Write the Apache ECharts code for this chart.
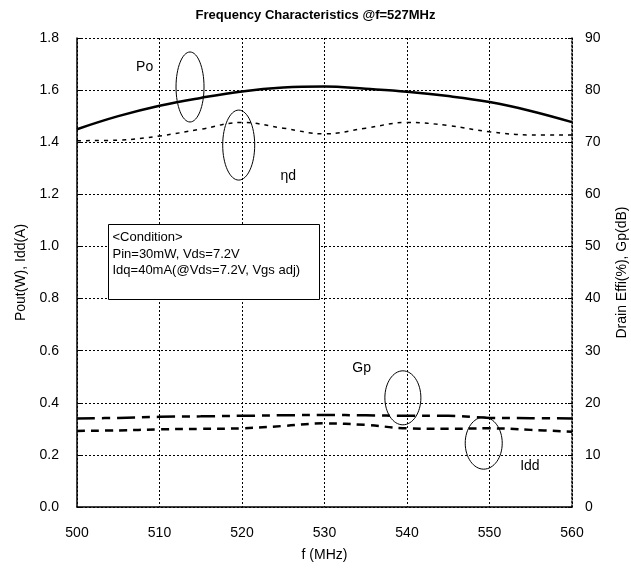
<!DOCTYPE html>
<html>
<head>
<meta charset="utf-8">
<script src="https://cdn.jsdelivr.net/npm/echarts@6/dist/echarts.min.js"></script>
<style>
  html, body { margin: 0; padding: 0; background: #fff; }
  #chart { width: 631px; height: 568px; }
</style>
</head>
<body>
<div id="chart"></div>
<script>
// frequency points (MHz)
const freq = [500, 505, 510, 515, 520, 525, 530, 535, 540, 545, 550, 555, 560];
// left axis: Pout (W), Idd (A)
const pout = [1.45, 1.50, 1.54, 1.57, 1.595, 1.61, 1.614, 1.605, 1.594, 1.577, 1.554, 1.52, 1.477];
const idd = [0.292, 0.294, 0.298, 0.300, 0.302, 0.311, 0.321, 0.315, 0.302, 0.300, 0.302, 0.296, 0.289];
// right axis: drain efficiency (%), Gp (dB)
const eff = [70.3, 70.4, 71.2, 72.5, 73.8, 72.7, 71.6, 72.7, 73.8, 73.2, 72.0, 71.4, 71.4];
const gp = [17.0, 17.1, 17.3, 17.4, 17.5, 17.6, 17.65, 17.6, 17.5, 17.5, 17.1, 17.05, 17.0];

const xTicks = [500, 510, 520, 530, 540, 550, 560];
const leftTicks = [0, 0.2, 0.4, 0.6, 0.8, 1.0, 1.2, 1.4, 1.6, 1.8];
const rightTicks = [0, 10, 20, 30, 40, 50, 60, 70, 80, 90];

const pairs = (xs, ys) => xs.map((x, i) => [x, ys[i]]);

const FONT = 'Liberation Sans, Arial, sans-serif';
const dotted = { color: '#000', width: 1, type: [2, 2] };

const myChart = echarts.init(document.getElementById('chart'));

const option = {
  animation: false,
  textStyle: { fontFamily: FONT, color: '#000' },
  title: {
    text: 'Frequency Characteristics @f=527MHz',
    left: 'center',
    top: 4,
    textStyle: { fontFamily: FONT, fontSize: 13, fontWeight: 'bold', color: '#000' },
  },
  grid: { left: 77, right: 59, top: 38, bottom: 61, outerBoundsMode: 'none', containLabel: false },
  xAxis: {
    type: 'value',
    min: xTicks[0],
    max: xTicks[xTicks.length - 1],
    interval: 10,
    name: 'f (MHz)',
    nameLocation: 'middle',
    nameGap: 41,
    nameTextStyle: { fontFamily: FONT, fontSize: 14, color: '#000' },
    axisLine: { lineStyle: { color: '#000', width: 1.5 } },
    axisTick: { show: false },
    axisLabel: { fontFamily: FONT, fontSize: 14, color: '#000', margin: 19 },
    splitLine: { show: true, lineStyle: dotted },
  },
  yAxis: [
    {
      type: 'value',
      min: leftTicks[0],
      max: leftTicks[leftTicks.length - 1],
      interval: 0.2,
      name: 'Pout(W), Idd(A)',
      nameLocation: 'middle',
      nameGap: 46,
      nameTextStyle: { fontFamily: FONT, fontSize: 14, color: '#000' },
      axisLine: { show: true, lineStyle: { color: '#000', width: 1.5 } },
      axisTick: { show: true, inside: true, length: 4, lineStyle: { color: '#000' } },
      axisLabel: { fontFamily: FONT, fontSize: 14, color: '#000', margin: 18, formatter: v => v.toFixed(1) },
      splitLine: { show: true, lineStyle: dotted },
    },
    {
      type: 'value',
      min: rightTicks[0],
      max: rightTicks[rightTicks.length - 1],
      interval: 10,
      name: 'Drain Effi(%), Gp(dB)',
      nameLocation: 'middle',
      nameGap: 43,
      nameTextStyle: { fontFamily: FONT, fontSize: 14, color: '#000' },
      axisLine: { show: true, lineStyle: { color: '#000', width: 1.5, type: [2, 2] } },
      axisTick: { show: true, inside: true, length: 4, lineStyle: { color: '#000' } },
      axisLabel: { fontFamily: FONT, fontSize: 14, color: '#000', margin: 13 },
      splitLine: { show: false },
    },
  ],
  series: [
    {
      name: 'Po', type: 'line', yAxisIndex: 0, smooth: 0.4, showSymbol: false,
      data: pairs(freq, pout),
      lineStyle: { color: '#000', width: 2.5, type: 'solid' },
    },
    {
      name: 'ηd', type: 'line', yAxisIndex: 1, smooth: 0.4, showSymbol: false,
      data: pairs(freq, eff),
      lineStyle: { color: '#000', width: 1.5, type: [4, 5] },
    },
    {
      name: 'Gp', type: 'line', yAxisIndex: 1, smooth: 0.4, showSymbol: false,
      data: pairs(freq, gp),
      lineStyle: { color: '#000', width: 2.5, type: [18, 7, 8, 7] },
    },
    {
      name: 'Idd', type: 'line', yAxisIndex: 0, smooth: 0.4, showSymbol: false,
      data: pairs(freq, idd),
      lineStyle: { color: '#000', width: 2.5, type: [8, 6] },
    },
  ],
};

myChart.setOption(option);

// annotation ellipses and labels, placed in data coords (freq, left axis value)
const ellipses = [
  { at: [513.7, 1.612], rx: 14, ry: 35 },
  { at: [519.6, 1.389], rx: 16, ry: 35 },
  { at: [539.5, 0.419], rx: 18, ry: 27 },
  { at: [549.3, 0.245], rx: 18.5, ry: 26 },
];
const labels = [
  { text: 'Po', at: [508.2, 1.69] },
  { text: 'ηd', at: [525.6, 1.27] },
  { text: 'Gp', at: [534.5, 0.534] },
  { text: 'Idd', at: [554.9, 0.155] },
];

const toPx = p => myChart.convertToPixel({ xAxisIndex: 0, yAxisIndex: 0 }, p);

const graphic = [];
ellipses.forEach(e => {
  const [cx, cy] = toPx(e.at);
  graphic.push({
    type: 'ellipse', z: 100,
    shape: { cx, cy, rx: e.rx, ry: e.ry },
    style: { fill: null, stroke: '#000', lineWidth: 1 },
  });
});
labels.forEach(l => {
  const [x, y] = toPx(l.at);
  graphic.push({
    type: 'text', z: 100, x, y,
    style: { text: l.text, font: '14px ' + FONT, fill: '#000', textAlign: 'center', textVerticalAlign: 'middle' },
  });
});

// condition box
graphic.push({
  type: 'group', left: 108, top: 224, z: 100,
  children: [
    { type: 'rect', shape: { x: 0, y: 0, width: 211, height: 75 }, style: { fill: '#fff', stroke: '#000', lineWidth: 1 } },
    {
      type: 'text', x: 4, y: 5,
      style: {
        text: '<Condition>\nPin=30mW, Vds=7.2V\nIdq=40mA(@Vds=7.2V, Vgs adj)',
        font: '13px ' + FONT, fill: '#000', lineHeight: 16.5,
      },
    },
  ],
});

myChart.setOption({ graphic });

window.addEventListener('resize', () => {
  myChart.resize();
});
</script>
</body>
</html>
